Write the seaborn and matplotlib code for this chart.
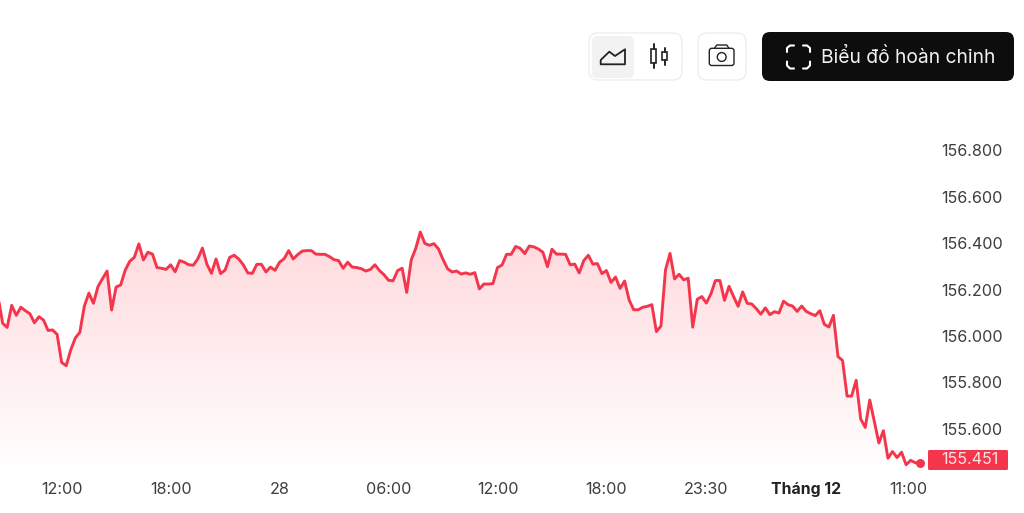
import numpy as np
import pandas as pd
import matplotlib
matplotlib.use("Agg")
import matplotlib.pyplot as plt
import seaborn as sns
from matplotlib.patches import FancyBboxPatch, Circle, Polygon, Rectangle

# price every 15 min
prices = [
    156.169, 156.055, 156.037, 156.132, 156.089, 156.124, 156.109, 156.096, 156.057, 156.083,
    156.069, 156.024, 156.026, 156.007, 155.886, 155.872, 155.940, 155.991, 156.016, 156.129,
    156.185, 156.141, 156.213, 156.247, 156.280, 156.112, 156.211, 156.220, 156.284, 156.322,
    156.339, 156.397, 156.328, 156.361, 156.353, 156.295, 156.292, 156.287, 156.307, 156.277,
    156.325, 156.318, 156.307, 156.305, 156.333, 156.379, 156.309, 156.270, 156.332, 156.269,
    156.284, 156.339, 156.348, 156.332, 156.307, 156.272, 156.270, 156.309, 156.309, 156.276,
    156.297, 156.283, 156.318, 156.333, 156.368, 156.332, 156.351, 156.366, 156.368, 156.368,
    156.353, 156.352, 156.352, 156.342, 156.329, 156.325, 156.292, 156.318, 156.297, 156.295,
    156.290, 156.280, 156.287, 156.307, 156.282, 156.264, 156.240, 156.238, 156.282, 156.292,
    156.188, 156.328, 156.378, 156.448, 156.399, 156.391, 156.398, 156.375, 156.330, 156.290,
    156.276, 156.280, 156.267, 156.272, 156.266, 156.273, 156.203, 156.224, 156.224, 156.226,
    156.295, 156.306, 156.352, 156.352, 156.386, 156.378, 156.355, 156.388, 156.384, 156.375,
    156.361, 156.299, 156.374, 156.353, 156.353, 156.352, 156.307, 156.310, 156.272, 156.325,
    156.348, 156.310, 156.312, 156.269, 156.282, 156.231, 156.254, 156.205, 156.237, 156.155,
    156.113, 156.113, 156.124, 156.128, 156.135, 156.019, 156.043, 156.284, 156.356, 156.246,
    156.266, 156.242, 156.249, 156.038, 156.158, 156.170, 156.142, 156.181, 156.239, 156.239,
    156.154, 156.214, 156.170, 156.128, 156.190, 156.141, 156.138, 156.118, 156.094, 156.121,
    156.092, 156.105, 156.099, 156.150, 156.135, 156.129, 156.106, 156.129, 156.106, 156.096,
    156.088, 156.109, 156.050, 156.039, 156.089, 155.911, 155.895, 155.741, 155.741, 155.809,
    155.642, 155.606, 155.724, 155.631, 155.539, 155.592, 155.473, 155.502, 155.476, 155.499,
    155.445, 155.464, 155.454, 155.451,
]
y_ticks = [155.6, 155.8, 156.0, 156.2, 156.4, 156.6, 156.8]
y_labels = ["155.600", "155.800", "156.000", "156.200", "156.400", "156.600", "156.800"]
x_ticks = [14, 38, 62, 86, 110, 134, 156, 178, 200.4]
x_labels = ["12:00", "18:00", "28", "06:00", "12:00", "18:00", "23:30", "Tháng 12", "11:00"]
last_label = "155.451"

RED = "#f4364c"
TXT = "#3d3d3d"

sns.set_style("white")
plt.rcParams["font.family"] = ["Inter", "DejaVu Sans"]

W, H = 1024, 513
fig = plt.figure(figsize=(W / 100, H / 100), dpi=100)
fig.patch.set_facecolor("white")

# pixel box of the plot area
left, right, top, bottom = 0, 928, 100, 471
ax = fig.add_axes([left / W, 1 - bottom / H, (right - left) / W, (bottom - top) / H])

df = pd.DataFrame({"i": np.arange(len(prices)), "price": prices})
sns.lineplot(data=df, x="i", y="price", color=RED, lw=2.1, ax=ax, zorder=3)

px = 4.54  # width of one step in pixels
xmin, xmax = 1.9 / px, (right + 1.9) / px
ymin = 156.0 + (336 - bottom) * 0.2 / 46.4
ymax = 156.0 + (336 - top) * 0.2 / 46.4

# gradient under the line
grad = np.linspace(1, 0, 256).reshape(-1, 1)
cmap = matplotlib.colors.LinearSegmentedColormap.from_list("fade", ["#ffffff", "#ffd9dd"])
im = ax.imshow(grad, cmap=cmap, aspect="auto", zorder=1, origin="upper",
               extent=[0, len(prices) - 1, ymin, max(prices)])
poly = Polygon(list(zip(df["i"], df["price"])) + [(len(prices) - 1, ymin), (0, ymin)],
               closed=True, transform=ax.transData, fc="none", ec="none")
ax.add_patch(poly)
im.set_clip_path(poly)
ax.set_xlim(xmin, xmax)
ax.set_ylim(ymin, ymax)

ax.scatter([len(prices) - 1], [prices[-1]], s=42, color=RED, zorder=4, lw=0)

ax.set_xlabel("")
ax.set_ylabel("")
sns.despine(ax=ax, left=True, bottom=True, right=True, top=True)
ax.yaxis.tick_right()
ax.set_yticks(y_ticks, y_labels)
ax.set_xticks(x_ticks, x_labels)
ax.tick_params(axis="y", length=0, pad=9.4, labelsize=11.6, labelcolor=TXT)
ax.tick_params(axis="x", length=0, pad=8, labelsize=11.6, labelcolor=TXT)
ax.get_xticklabels()[7].set_fontweight("bold")
ax.get_xticklabels()[7].set_fontsize(11.4)
ax.get_xticklabels()[7].set_color("#222222")

# toolbar and price tag, drawn in pixel coordinates
ov = fig.add_axes([0, 0, 1, 1])
ov.set_xlim(0, W)
ov.set_ylim(H, 0)
ov.axis("off")
ov.patch.set_alpha(0)


def box(x0, y0, x1, y1, r, fc, ec="none", lw=1.0):
    ov.add_patch(FancyBboxPatch((x0 + r, y0 + r), x1 - x0 - 2 * r, y1 - y0 - 2 * r,
                                boxstyle=f"round,pad={r},rounding_size={r}", fc=fc, ec=ec, lw=lw))


box(589, 33, 682, 80, 9, "white", "#eeeeee")
box(592, 36, 634, 78, 6, "#f2f2f2")
box(698, 33, 746, 80, 9, "white", "#eeeeee")
box(762, 32, 1014, 81, 8, "#0d0d0d")

ic = "#222222"
ov.add_patch(Polygon([(600.7, 64.3), (600.7, 60), (609.3, 51.7), (615, 56), (625, 49.3), (625, 64.3)],
                     closed=True, fc="none", ec=ic, lw=1.3, joinstyle="round"))
for wx, w0, w1, bx0, bx1, by0, by1 in [(653.5, 44.3, 68.3, 651, 656, 49, 63),
                                       (664.5, 48.3, 65, 662.3, 666.7, 52.3, 60)]:
    ov.plot([wx, wx], [w0, by0], color=ic, lw=1.4)
    ov.plot([wx, wx], [by1, w1], color=ic, lw=1.4)
    ov.add_patch(Rectangle((bx0, by0), bx1 - bx0, by1 - by0, fc="none", ec=ic, lw=1.2))

box(709.3, 48.3, 734, 65.5, 2.5, "none", ic, 1.0)
ov.plot([714.5, 716.7, 726.7, 729], [48.3, 45, 45, 48.3], color=ic, lw=1.0)
ov.add_patch(Circle((721.7, 57), 4.4, fc="none", ec=ic, lw=1.0))

# corner brackets on the black button
for xs, ys in [([787, 787, 790, 794], [52, 48, 45.5, 45.5]),
               ([803, 807, 810, 810], [45.5, 45.5, 48, 52]),
               ([787, 787, 790, 794], [61.5, 65.5, 68.5, 68.5]),
               ([803, 807, 810, 810], [68.5, 68.5, 65.5, 61.5])]:
    ov.plot(xs, ys, color="white", lw=1.5, solid_capstyle="round")
ov.text(821, 57.5, "Biểu đồ hoàn chỉnh", color="#f2f2f2", fontsize=13.85, va="center", ha="left")

box(928, 450, 1008, 470, 1.5, RED)
ov.text(941, 460, last_label, color="#ffe3e6", fontsize=11.6, va="center", ha="left")

fig.savefig("out.png", dpi=100)
